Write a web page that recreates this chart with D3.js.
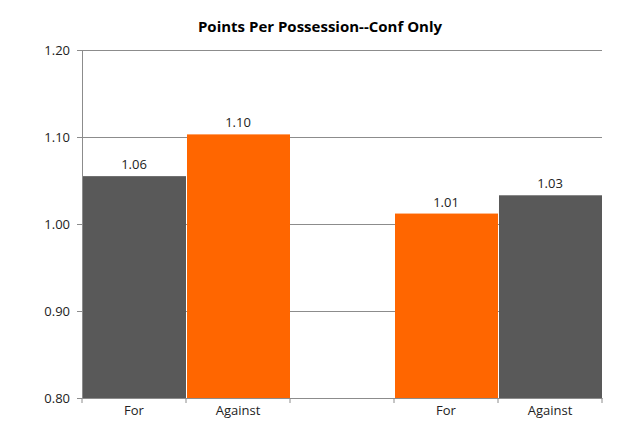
<!DOCTYPE html>
<html><head><meta charset="utf-8">
<script src="https://cdn.jsdelivr.net/npm/d3@7"></script>
<style>body{margin:0;background:#fff;font-family:"Open Sans",Arial,sans-serif}</style>
</head><body><svg id="c" width="640" height="435"></svg>
<script>
const slots = ["s0", "s1", "s2", "s3", "s4"];
const slotLabels = ["For", "Against", "", "For", "Against"];
const values = [1.055, 1.103, null, 1.012, 1.033];
const valueLabels = ["1.06", "1.10", "", "1.01", "1.03"];
const barColors = ["#595959", "#ff6600", null, "#ff6600", "#595959"];
const yTicks = [0.8, 0.9, 1.0, 1.1, 1.2];

const svg = d3.select("#c");
const m = {l: 82, r: 602, t: 50, b: 398};
const x = d3.scaleBand().domain(slots).range([m.l, m.r]).padding(0);
const y = d3.scaleLinear().domain([0.8, 1.2]).range([m.b, m.t]);

svg.append("text").attr("x", 320).attr("y", 32).attr("text-anchor", "middle")
  .attr("font-size", 15).attr("font-weight", "bold").text("Points Per Possession--Conf Only");

svg.selectAll(".grid").data(yTicks.slice(1)).join("line")
  .attr("x1", m.l).attr("x2", m.r).attr("y1", d => y(d)).attr("y2", d => y(d))
  .attr("stroke", "#8c8c8c").attr("stroke-width", 1).attr("shape-rendering", "crispEdges");

const data = slots.map((s, i) => ({s, v: values[i], c: barColors[i], l: valueLabels[i]})).filter(d => d.v != null);
svg.selectAll(".bar").data(data).join("rect")
  .attr("x", d => x(d.s) + 1).attr("width", x.bandwidth() - 1)
  .attr("y", d => y(d.v)).attr("height", d => y(0.8) - y(d.v)).attr("fill", d => d.c);
svg.selectAll(".vl").data(data).join("text")
  .attr("x", d => x(d.s) + x.bandwidth() / 2).attr("y", d => y(d.v) - 7)
  .attr("text-anchor", "middle").attr("font-size", 13).attr("fill", "#222").text(d => d.l);

const ya = svg.append("g").attr("transform", `translate(${m.l},0)`)
  .call(d3.axisLeft(y).tickValues(yTicks).tickFormat(d3.format(".2f")).tickSize(5));
ya.select(".domain").attr("stroke", "#8c8c8c");
ya.selectAll(".tick line").attr("stroke", "#8c8c8c");
ya.selectAll("text").attr("font-size", 13).attr("fill", "#222").attr("font-family", "Open Sans, Arial").attr("dx", -4);

const xa = svg.append("g").attr("transform", `translate(0,${m.b})`)
  .call(d3.axisBottom(x).tickFormat((d, i) => slotLabels[i]).tickSize(0));
xa.select(".domain").attr("stroke", "#8c8c8c");
xa.selectAll("text").attr("font-size", 13).attr("fill", "#222").attr("font-family", "Open Sans, Arial").attr("dy", 14);
svg.selectAll(".xt").data(slots.concat(["end"])).join("line")
  .attr("x1", (d, i) => m.l + i * x.bandwidth()).attr("x2", (d, i) => m.l + i * x.bandwidth())
  .attr("y1", m.b).attr("y2", m.b + 5).attr("stroke", "#8c8c8c");
</script></body></html>
